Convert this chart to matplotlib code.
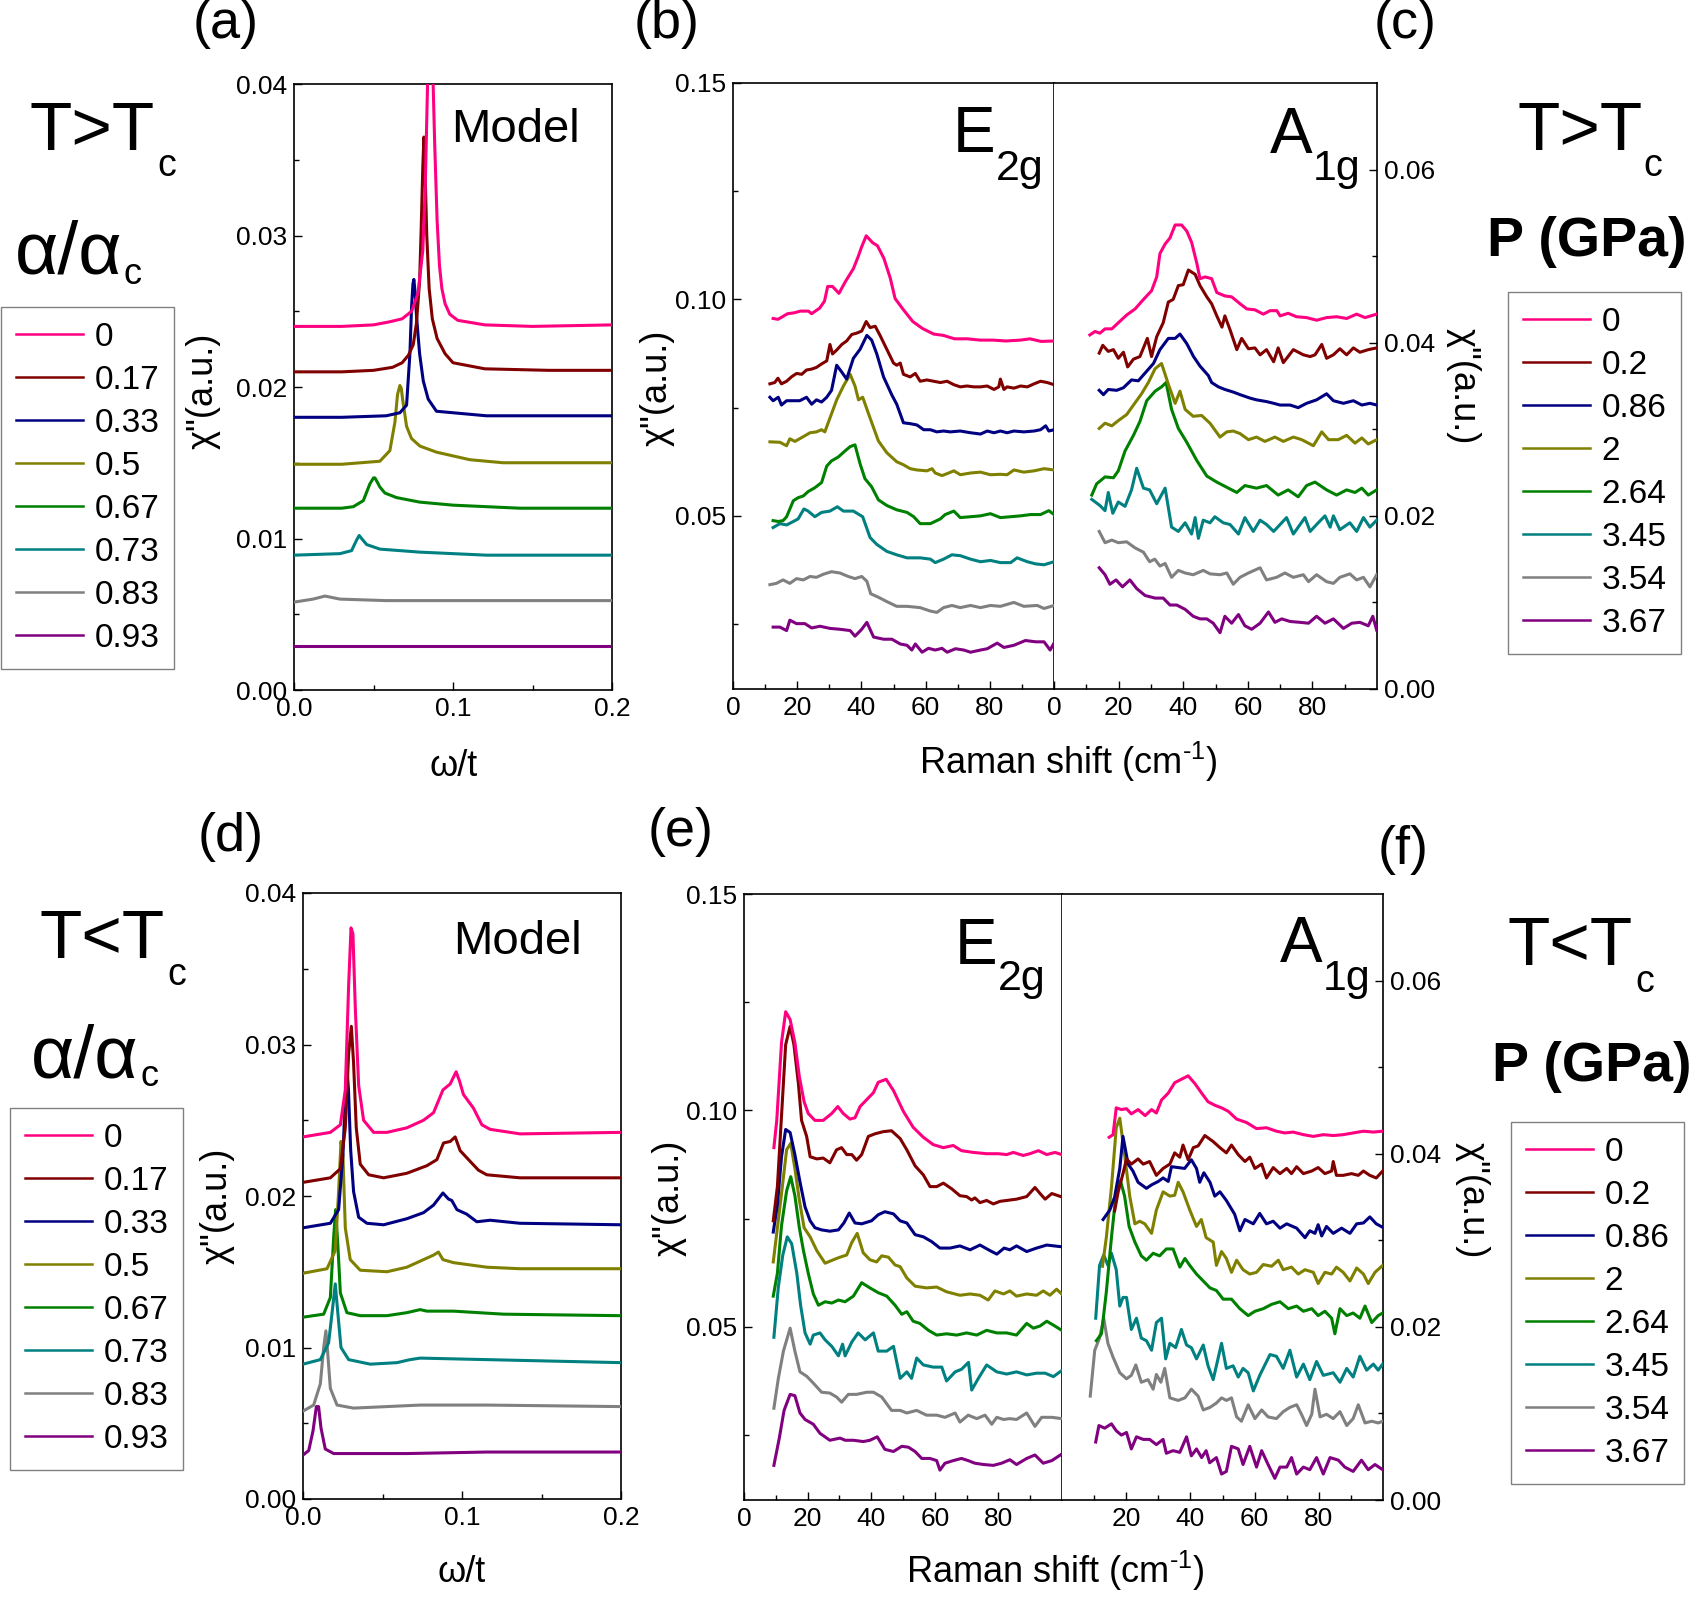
import matplotlib
matplotlib.use('Agg')
import matplotlib.pyplot as plt
from matplotlib.lines import Line2D
from matplotlib.ticker import FixedLocator, FormatStrFormatter

W, H = 1694, 1605

colors = ['#FF0080', '#800000', '#000080', '#808000',
          '#008000', '#008080', '#808080', '#800080']
alpha_labels = ['0', '0.17', '0.33', '0.5', '0.67', '0.73', '0.83', '0.93']
pressure_labels = ['0', '0.2', '0.86', '2', '2.64', '3.45', '3.54', '3.67']

# model, T > Tc : (omega/t, chi'')
model_hi = [
    [(0, .0240), (.03, .0240), (.05, .0241), (.06, .0243), (.068, .0245), (.074, .0250), (.078, .0262),
     (.081, .0290), (.0825, .0330), (.084, .0400), (.0855, .0450), (.087, .0420), (.0885, .0360),
     (.090, .0310), (.0915, .0280), (.093, .0265), (.095, .0255), (.098, .0248), (.103, .0244),
     (.12, .0241), (.15, .0240), (.2, .0241)],
    [(0, .0210), (.03, .0210), (.05, .0211), (.062, .0213), (.068, .0216), (.072, .0221), (.075, .0228),
     (.077, .0242), (.079, .0270), (.080, .0305), (.081, .0345), (.0817, .0365), (.0825, .0340),
     (.0835, .0300), (.085, .0265), (.087, .0245), (.090, .0232), (.095, .0222), (.100, .0216),
     (.12, .0212), (.16, .0211), (.2, .0211)],
    [(0, .0180), (.03, .0180), (.058, .0181), (.0666, .0183), (.0708, .0188), (.0729, .0222), (.0739, .0252),
     (.0748, .0268), (.0754, .0271), (.0762, .0262), (.0771, .0246), (.079, .0222), (.0813, .0204),
     (.0844, .0192), (.0896, .0184), (.100, .0183), (.121, .0181), (.2, .0181)],
    [(0, .0149), (.03, .0149), (.054, .0151), (.0603, .0158), (.0635, .0177), (.0651, .0195), (.0666, .0201),
     (.0675, .0199), (.0683, .0192), (.0708, .0174), (.0739, .0166), (.0792, .0161), (.0896, .0157),
     (.1106, .0152), (.1315, .0150), (.2, .0150)],
    [(0, .0120), (.03, .0120), (.0373, .0121), (.0436, .0125), (.0477, .0136), (.050, .0140), (.0509, .0140),
     (.0525, .0137), (.054, .0134), (.0572, .0130), (.0645, .0127), (.0792, .0124), (.1001, .0122),
     (.142, .0120), (.2, .0120)],
    [(0, .0089), (.0289, .0090), (.0362, .0092), (.0394, .0099), (.041, .0102), (.0425, .0100), (.0457, .0096),
     (.054, .0093), (.0792, .0091), (.121, .0089), (.2, .0089)],
    [(0, .0058), (.012, .0060), (.0195, .0062), (.0289, .0060), (.058, .0059), (.2, .0059)],
    [(0, .0029), (.2, .0029)],
]

# model, T < Tc
model_lo = [
    [(0, .0239), (.0172, .0242), (.0235, .0247), (.0266, .0270), (.0287, .0339), (.0302, .0377), (.0314, .0373),
     (.0329, .0324), (.035, .0273), (.0381, .0250), (.0444, .0242), (.0528, .0242), (.0653, .0245),
     (.0758, .0250), (.0821, .0255), (.088, .0270), (.0926, .0274), (.0963, .0282), (.0984, .0276),
     (.1009, .0267), (.1072, .0258), (.1125, .0247), (.1177, .0244), (.1365, .0241), (.2, .0242)],
    [(0, .0209), (.0172, .0212), (.0235, .0218), (.0266, .0245), (.0287, .0294), (.0304, .0312), (.0318, .0288),
     (.0335, .0245), (.036, .0221), (.0413, .0214), (.0507, .0212), (.0653, .0215), (.0779, .0220),
     (.0842, .0224), (.0884, .0235), (.0926, .0236), (.0957, .0239), (.0988, .0230), (.1041, .0224),
     (.1104, .0217), (.1156, .0214), (.1365, .0212), (.2, .0212)],
    [(0, .0179), (.0172, .0182), (.0224, .0191), (.0251, .0227), (.0266, .0265), (.0276, .0285), (.0286, .0270),
     (.030, .0230), (.0318, .0203), (.035, .0186), (.0402, .0182), (.0507, .0181), (.0653, .0185),
     (.0758, .0189), (.0821, .0194), (.088, .0202), (.0915, .0198), (.0936, .0197), (.0968, .0191),
     (.103, .0188), (.1093, .0183), (.1177, .0184), (.1365, .0182), (.2, .0181)],
    [(0, .0149), (.0151, .0152), (.0203, .0164), (.0224, .0203), (.0239, .0236), (.0251, .0227), (.0266, .0179),
     (.0297, .0158), (.036, .0151), (.0528, .0150), (.0653, .0153), (.0758, .0158), (.0821, .0161),
     (.0852, .0163), (.088, .0158), (.0947, .0156), (.1156, .0153), (.1365, .0152), (.2, .0152)],
    [(0, .0120), (.013, .0122), (.0172, .0133), (.0193, .0173), (.0205, .0191), (.0218, .0170), (.0235, .0136),
     (.0276, .0123), (.036, .0121), (.0528, .0121), (.0653, .0123), (.0737, .0125), (.0779, .0124),
     (.0947, .0124), (.1261, .0122), (.2, .0121)],
    [(0, .0089), (.0109, .0092), (.0161, .0103), (.0184, .0124), (.0203, .0142), (.0218, .0124), (.0239, .0100),
     (.0287, .0092), (.0423, .0089), (.0591, .0090), (.0674, .0092), (.0737, .0093), (.1156, .0092),
     (.2, .0090)],
    [(0, .0058), (.0067, .0062), (.0109, .0076), (.013, .0100), (.0144, .0111), (.0155, .0097), (.0172, .0073),
     (.0214, .0062), (.0318, .0060), (.0528, .0061), (.0737, .0062), (.1156, .0062), (.2, .0061)],
    [(0, .0029), (.0036, .0032), (.0063, .0045), (.0084, .0061), (.0098, .0061), (.0113, .0047), (.014, .0033),
     (.0193, .0030), (.0423, .0030), (.0653, .0030), (.1156, .0031), (.2, .0031)],
]

# E2g, T > Tc : (Raman shift, chi'')
e2g_hi = [
    [(12.5, .0956), (14, .0954), (17, .0967), (19, .0969), (21, .0973), (23.5, .0973), (24.5, .0967),
     (27, .0980), (28.5, .0996), (29.5, .1030), (31, .1030), (33, .1014), (35, .1041), (37.5, .1071),
     (39, .1099), (40, .1120), (41.5, .1147), (43.5, .1131), (45, .1124), (47, .1095), (49, .1049),
     (50.5, .1002), (53, .0977), (56, .0949), (59, .0933), (62.5, .0920), (65.5, .0917), (69, .0909),
     (73, .0909), (77, .0906), (81, .0906), (85, .0904), (89.5, .0906), (92.5, .0909), (96, .0903),
     (100, .0904)],
    [(11.5, .0805), (13, .0808), (14, .0818), (15.1, .0805), (16.7, .0811), (18.2, .0821), (19.8, .0829),
     (21.4, .0827), (22.9, .0837), (24.5, .0839), (26, .0843), (27.6, .0851), (29.2, .0858), (30.2, .0896),
     (31, .0874), (32.3, .0883), (33.9, .0896), (35.4, .0904), (37, .0919), (38.5, .0922), (40.1, .0927),
     (41.5, .0949), (42.7, .0935), (44.3, .0938), (45.8, .0917), (47.9, .0885), (50, .0853), (51, .0848),
     (52.1, .0853), (53.1, .0827), (55.2, .0821), (56.8, .0829), (58.3, .0811), (60.4, .0814),
     (62.5, .0811), (64.6, .0808), (66.7, .0811), (68.8, .0803), (70.8, .0798), (72.9, .0800),
     (75, .0798), (77.1, .0798), (79.2, .0800), (81.3, .0792), (82.8, .0798), (83.3, .0816),
     (84.4, .0792), (85.4, .0798), (87.5, .0795), (89.6, .0800), (91.7, .0798), (93.8, .0805),
     (95.8, .0811), (97.9, .0808), (100, .0803)],
    [(11.5, .0774), (12.5, .0766), (14.1, .0774), (15.1, .0756), (16.7, .0766), (18.8, .0766), (20.8, .0766),
     (22.9, .0774), (24.5, .0758), (26, .0768), (27.6, .0763), (29.2, .0774), (30.7, .0790), (32.3, .0848),
     (33.9, .0832), (35.4, .0816), (37.5, .0864), (39.6, .0885), (41.7, .0917), (43.2, .0906),
     (44.8, .0874), (46.9, .0821), (49.5, .0779), (51, .0758), (53.1, .0715), (55.2, .0713), (57.3, .0710),
     (59.4, .0699), (61.5, .0699), (63.5, .0694), (65.6, .0696), (67.7, .0694), (70.8, .0696),
     (74, .0692), (77.1, .0689), (79.2, .0696), (81.3, .0692), (83.3, .0696), (85.4, .0692),
     (87.5, .0696), (90.6, .0694), (93.8, .0696), (95.8, .0699), (97.4, .0708), (98.4, .0696),
     (100, .0699)],
    [(11.5, .0671), (14.6, .0670), (16.7, .0662), (17.7, .0678), (19.3, .0672), (21.9, .0683), (24, .0692),
     (26, .0694), (27.6, .0699), (28.6, .0694), (30.2, .0726), (32.3, .0768), (34.4, .0800), (36.5, .0827),
     (38, .0800), (39.1, .0768), (40.4, .0774), (42.7, .0726), (45.3, .0673), (47.9, .0646), (51, .0625),
     (53.1, .0618), (55.2, .0609), (57.3, .0606), (60.4, .0604), (62, .0609), (63, .0599), (65.1, .0593),
     (67.2, .0599), (68.8, .0604), (70.8, .0595), (74, .0599), (77.1, .0601), (80.2, .0595),
     (83.3, .0596), (85.4, .0595), (87.5, .0606), (90.6, .0601), (93.8, .0604), (96.9, .0609),
     (100, .0606)],
    [(12.5, .0489), (14.1, .0487), (15.6, .0489), (16.7, .0498), (18.8, .0535), (20.3, .0542), (21.9, .0546),
     (23.4, .0556), (25.5, .0565), (27.6, .0577), (29.2, .0615), (30.7, .0627), (32.8, .0636),
     (34.9, .0650), (36.5, .0660), (38, .0664), (39.6, .0620), (41.1, .0586), (43.2, .0567),
     (45.3, .0537), (47.9, .0524), (51, .0514), (54.2, .0508), (56.3, .0498), (58.3, .0482),
     (61.5, .0482), (64.6, .0493), (66.1, .0503), (68.8, .0511), (70.8, .0496), (74, .0498),
     (77.1, .0500), (80.2, .0505), (83.3, .0496), (86.5, .0498), (89.6, .0500), (92.7, .0503),
     (95.8, .0503), (98.4, .0512), (100, .0503)],
    [(12.5, .0473), (14.6, .0482), (16.7, .0479), (18.8, .0487), (20.3, .0493), (22.1, .0516), (23.4, .0511),
     (25.5, .0498), (27.6, .0508), (30.2, .0511), (32.5, .0521), (34.4, .0511), (37.5, .0511),
     (40.4, .0498), (42.7, .0450), (44.8, .0434), (47.9, .0418), (51, .0410), (54.2, .0403),
     (58.3, .0403), (61.5, .0400), (63, .0392), (65.6, .0400), (68.2, .0410), (70.8, .0408), (74, .0400),
     (77.1, .0394), (80.2, .0397), (83.3, .0392), (86.5, .0392), (88.5, .0403), (91.7, .0394),
     (94.3, .0389), (96.9, .0387), (100, .0394)],
    [(11.5, .0341), (13.5, .0344), (15.6, .0352), (17.7, .0344), (19.8, .0355), (21.9, .0352), (24, .0360),
     (26, .0358), (28.1, .0365), (30.7, .0371), (33.3, .0368), (35.9, .0360), (38, .0355), (40.1, .0360),
     (41.7, .0349), (42.9, .0320), (45.3, .0312), (47.9, .0302), (51, .0291), (54.2, .0291), (58.3, .0288),
     (61.5, .0280), (63.5, .0277), (65.6, .0288), (68.2, .0293), (70.8, .0288), (74, .0293), (77.1, .0288),
     (80.2, .0293), (83.3, .0291), (87.5, .0300), (90.6, .0291), (94.8, .0293), (96.9, .0286),
     (100, .0293)],
    [(12.5, .0243), (14.6, .0243), (16.7, .0235), (17.7, .0259), (19.8, .0251), (22.4, .0251), (24.5, .0241),
     (27.1, .0245), (30.2, .0240), (33.3, .0238), (36.5, .0235), (38, .0222), (40.1, .0238), (41.7, .0254),
     (43.8, .0220), (46.9, .0215), (49.5, .0215), (52.1, .0204), (54.2, .0201), (55.7, .0190),
     (56.8, .0204), (58.9, .0185), (60.9, .0194), (63, .0190), (65.1, .0194), (66.7, .0185),
     (69.3, .0193), (71.9, .0190), (74, .0185), (77.1, .0190), (79.2, .0193), (82.3, .0206),
     (84.4, .0196), (87.5, .0201), (91.1, .0212), (94.3, .0209), (96.9, .0209), (98.8, .0190),
     (100, .0206)],
]

# A1g, T > Tc
a1g_hi = [
    [(11.1, .0409), (12.7, .0413), (14.2, .0411), (15.8, .0416), (17.9, .0416), (19.9, .0423), (22.5, .0432),
     (25.1, .0439), (27.7, .0450), (30.2, .0460), (31.8, .0476), (32.8, .0503), (34.4, .0514),
     (35.9, .0521), (37.5, .0536), (39.5, .0536), (41.1, .0529), (42.6, .0516), (44.2, .0492),
     (45.2, .0474), (46.8, .0476), (48.8, .0474), (50.4, .0458), (52.9, .0454), (55, .0453),
     (57.6, .0445), (59.7, .0439), (62.2, .0438), (64.8, .0433), (66.9, .0437), (69, .0437), (70, .0431),
     (72.5, .0434), (75.1, .0430), (78.2, .0429), (81.3, .0426), (84.4, .0429), (87.5, .0430),
     (90.6, .0428), (93.7, .0433), (96.3, .0429), (99.9, .0433)],
    [(14, .0388), (15.1, .0397), (16.8, .0390), (18.4, .0392), (19.9, .0382), (21.5, .0389), (22.8, .0372),
     (24.6, .0381), (26.6, .0384), (28.9, .0405), (30.2, .0384), (31.8, .0407), (33.8, .0423),
     (35.4, .0447), (36.9, .0450), (38.5, .0466), (40, .0467), (41.6, .0484), (43.7, .0479),
     (45.2, .0466), (47.3, .0453), (48.8, .0445), (50.4, .0431), (52, .0418), (52.9, .0431),
     (54.5, .0415), (56.6, .0392), (58.1, .0405), (60.2, .0393), (62.2, .0394), (63.8, .0386),
     (65.8, .0392), (68, .0378), (69.4, .0394), (71, .0377), (74.1, .0392), (77.2, .0386), (79.3, .0384),
     (80.8, .0386), (82.9, .0398), (84.4, .0382), (86.5, .0386), (88.5, .0393), (90.6, .0386),
     (92.7, .0394), (94.7, .0389), (97.3, .0392), (99.9, .0394)],
    [(14, .0345), (15.3, .0340), (16.8, .0346), (19.4, .0345), (21.5, .0348), (24, .0357), (26.1, .0356),
     (28.2, .0365), (30.8, .0376), (32.8, .0392), (35.4, .0405), (37.5, .0405), (39, .0410), (41.1, .0399),
     (43.2, .0384), (45.2, .0373), (47.8, .0362), (48.8, .0354), (50.9, .0349), (52.9, .0346),
     (55.5, .0343), (57.6, .0340), (60.7, .0336), (62.7, .0334), (65.8, .0332), (68, .0330), (70, .0328),
     (73.1, .0328), (75.6, .0325), (78.2, .0330), (81.3, .0334), (84.4, .0341), (86.5, .0333),
     (89.6, .0330), (92.7, .0333), (95.3, .0328), (97.8, .0330), (99.9, .0328)],
    [(14, .0301), (15.8, .0307), (17.9, .0304), (19.9, .0310), (22.5, .0317), (24.6, .0328), (27.1, .0341),
     (29.2, .0354), (31.3, .0370), (33.3, .0376), (35.4, .0352), (37.5, .0330), (39, .0344), (40.6, .0323),
     (43.1, .0315), (45.7, .0316), (48.3, .0307), (51.4, .0291), (53.5, .0297), (55.5, .0298),
     (57.6, .0295), (60.2, .0288), (62.7, .0291), (65.3, .0286), (68.4, .0291), (71, .0286), (74.1, .0291),
     (76.7, .0288), (80.3, .0281), (82.9, .0297), (85, .0288), (88, .0288), (90.6, .0293), (93.2, .0284),
     (95.3, .0290), (97.3, .0283), (99.9, .0288)],
    [(11.7, .0224), (13.2, .0237), (15.8, .0245), (18.4, .0244), (19.9, .0252), (22, .0275), (24.6, .0293),
     (26.6, .0309), (28.7, .0333), (31.3, .0344), (33.3, .0349), (34.7, .0354), (36.4, .0323),
     (38.5, .0301), (41.1, .0285), (44.2, .0264), (47.3, .0246), (50.4, .0239), (53.5, .0233),
     (56.6, .0227), (59.1, .0235), (62.7, .0232), (65.8, .0235), (69.4, .0224), (72.5, .0230),
     (75.6, .0222), (78.2, .0235), (80.8, .0239), (84.4, .0230), (87.5, .0224), (90.6, .0230),
     (93.2, .0227), (95.3, .0232), (97.3, .0224), (99.9, .0230)],
    [(11.7, .0219), (14.2, .0212), (15.8, .0206), (16.8, .0227), (18.2, .0203), (19.9, .0216), (22, .0211),
     (24, .0230), (25.6, .0255), (27.7, .0232), (29.6, .0230), (31.8, .0214), (34.4, .0232), (36.4, .0187),
     (38.5, .0182), (40.6, .0192), (42.6, .0179), (43.7, .0198), (44.7, .0174), (46.2, .0195),
     (48.3, .0192), (49.8, .0199), (52.4, .0192), (54.5, .0190), (57.1, .0179), (59.1, .0198),
     (61.7, .0182), (63.8, .0195), (65.8, .0190), (68, .0182), (70, .0190), (72, .0198), (74.1, .0179),
     (77.7, .0198), (79.3, .0182), (81.8, .0192), (83.9, .0200), (85.5, .0187), (86.5, .0200),
     (88.5, .0184), (91.6, .0192), (93.7, .0182), (95.8, .0198), (97.8, .0187), (99.9, .0195)],
    [(14, .0182), (15.8, .0169), (17.9, .0172), (19.9, .0169), (22.5, .0170), (25.1, .0163), (27.7, .0158),
     (29.6, .0147), (31.2, .0150), (32.8, .0142), (34.4, .0145), (36.4, .0129), (38.5, .0137),
     (40.6, .0134), (43.1, .0132), (46.2, .0137), (48.3, .0133), (51.4, .0132), (53.5, .0134),
     (55.5, .0121), (57.6, .0129), (60.2, .0134), (63.8, .0140), (65.8, .0126), (68.9, .0129),
     (71.5, .0134), (74.1, .0129), (77.2, .0132), (78.8, .0124), (81.3, .0132), (84.4, .0124),
     (86.5, .0122), (88.5, .0129), (91.6, .0133), (93.7, .0126), (95.8, .0129), (97.8, .0118),
     (99.9, .0132)],
    [(14, .0140), (15.8, .0132), (17.3, .0121), (19.2, .0126), (21.2, .0118), (23.5, .0126), (25.6, .0116),
     (28.2, .0108), (31.3, .0105), (33.8, .0105), (35.9, .0097), (38, .0097), (40.6, .0092), (43.1, .0084),
     (45.2, .0081), (47.3, .0081), (49.3, .0076), (51.4, .0065), (52.9, .0084), (55, .0076), (57.1, .0086),
     (59.1, .0073), (61.2, .0069), (63.8, .0076), (66.4, .0089), (68.4, .0077), (70.5, .0081),
     (73.1, .0078), (76.2, .0077), (78.8, .0076), (81.3, .0084), (83.9, .0076), (86.5, .0081),
     (89.6, .0070), (92.2, .0076), (94.7, .0077), (97.3, .0073), (98.7, .0084), (99.9, .0068)],
]

# E2g, T < Tc
e2g_lo = [
    [(9.4, .0914), (10.3, .0977), (11.8, .1157), (13.1, .1228), (14.5, .1210), (16, .1157), (17.4, .1078),
     (18.9, .1020), (20.2, .0993), (22.3, .0977), (24.9, .0977), (27.6, .0993), (29.5, .1009),
     (31.2, .0993), (33.3, .0980), (34.9, .0983), (36.5, .1009), (38.6, .1025), (40.7, .1041),
     (42.2, .1065), (44.7, .1072), (47, .1046), (50.1, .0998), (53.2, .0961), (56.4, .0938),
     (59.5, .0921), (62.7, .0914), (65.8, .0919), (68.4, .0907), (72.1, .0903), (76.3, .0900),
     (80, .0900), (82.6, .0898), (84.7, .0903), (87.8, .0896), (89.9, .0900), (92.6, .0907),
     (95.2, .0898), (97.8, .0903), (99.9, .0898)],
    [(9.2, .0745), (10.5, .0824), (11.8, .0988), (13.1, .1152), (14.5, .1194), (15.7, .1152), (17.1, .1062),
     (18.1, .0977), (19.7, .0940), (20.8, .0893), (22.9, .0888), (24.9, .0890), (27, .0879), (29.1, .0909),
     (30.7, .0914), (32.3, .0898), (33.9, .0898), (35.4, .0885), (37, .0898), (39.1, .0940), (41.2, .0946),
     (43.8, .0951), (46.4, .0953), (49.1, .0935), (51.2, .0909), (53.8, .0872), (56.4, .0851),
     (58.5, .0824), (60.6, .0824), (62.7, .0832), (65.3, .0819), (67.9, .0803), (70, .0801),
     (71.6, .0793), (72.6, .0798), (74.2, .0787), (76.3, .0792), (78.4, .0784), (80.5, .0790),
     (82.6, .0792), (85.7, .0795), (88.9, .0801), (91.5, .0822), (93.1, .0808), (94.7, .0795),
     (96.8, .0808), (99.6, .0801)],
    [(9.2, .0719), (10.5, .0782), (11.8, .0893), (13.1, .0956), (14.5, .0949), (16, .0898), (17.6, .0835),
     (19.2, .0777), (20.8, .0745), (22.3, .0729), (24.4, .0724), (27, .0721), (29.7, .0724), (31.4, .0740),
     (33.1, .0763), (34.9, .0740), (37, .0738), (40.1, .0745), (42.2, .0759), (44.3, .0766), (47, .0761),
     (49.1, .0745), (51.2, .0740), (53.8, .0713), (56.4, .0708), (59, .0697), (61.6, .0682), (64.8, .0682),
     (67.9, .0687), (71.1, .0678), (74.2, .0689), (77.4, .0676), (79.5, .0668), (81.8, .0682),
     (83.6, .0678), (85.7, .0687), (88.9, .0674), (92, .0682), (95.2, .0689), (99.9, .0685)],
    [(9.2, .0650), (10.5, .0729), (11.8, .0808), (13.4, .0909), (14.7, .0924), (16, .0866), (17.4, .0793),
     (18.9, .0729), (20.8, .0708), (22.9, .0676), (25.5, .0647), (28.1, .0655), (30.2, .0661),
     (32.3, .0666), (33.9, .0695), (35.6, .0716), (37.5, .0671), (39.6, .0655), (41.7, .0650),
     (43.3, .0664), (45.4, .0661), (47.5, .0643), (49.1, .0639), (51.2, .0613), (53.8, .0594),
     (57.4, .0590), (60.6, .0592), (63.7, .0581), (67.9, .0573), (71.1, .0576), (74.2, .0573),
     (76.8, .0562), (78.9, .0583), (81.6, .0576), (83.6, .0583), (85.7, .0571), (88.9, .0576),
     (92, .0573), (94.1, .0583), (96.2, .0573), (98.3, .0587), (99.9, .0576)],
    [(9.2, .0571), (10.5, .0624), (11.8, .0734), (13.4, .0814), (14.7, .0847), (16, .0803), (17.4, .0729),
     (18.7, .0676), (20.2, .0624), (21.8, .0576), (23.4, .0550), (25.5, .0558), (27.6, .0555),
     (29.7, .0562), (31.8, .0558), (34.4, .0571), (37, .0602), (39.6, .0590), (42.2, .0579), (44.9, .0571),
     (47.5, .0550), (49.6, .0529), (51.2, .0535), (53.2, .0513), (55.3, .0508), (58, .0492), (60.6, .0481),
     (63.7, .0484), (66.9, .0481), (70, .0486), (73.2, .0481), (76.3, .0492), (79.5, .0486),
     (82.6, .0486), (85.7, .0481), (88.9, .0508), (91, .0497), (93.1, .0502), (95.2, .0513),
     (97.3, .0504), (99.9, .0492)],
    [(9.4, .0476), (10.8, .0592), (12.2, .0666), (13.6, .0708), (15, .0692), (16.6, .0624), (17.8, .0550),
     (19.2, .0486), (20.8, .0460), (21.8, .0481), (23.9, .0486), (25.5, .0470), (27.6, .0455),
     (29.7, .0433), (31, .0460), (31.8, .0433), (33.9, .0465), (35.9, .0486), (38.1, .0470),
     (40.7, .0486), (42.2, .0444), (44.9, .0444), (47, .0455), (49.1, .0381), (51.2, .0396),
     (52.7, .0381), (54.3, .0428), (56.4, .0412), (59.5, .0407), (62.2, .0407), (63.7, .0375),
     (66.4, .0396), (68.4, .0402), (70.6, .0418), (71.6, .0354), (73.7, .0381), (76.3, .0412),
     (79.5, .0396), (82.6, .0391), (85.7, .0396), (88.9, .0389), (92, .0393), (94.7, .0393),
     (97.3, .0385), (99.9, .0399)],
    [(9.4, .0312), (10.8, .0381), (12.4, .0444), (14.5, .0497), (16, .0444), (17.6, .0396), (19.7, .0386),
     (21.8, .0370), (24.4, .0349), (27, .0347), (29.1, .0338), (30.7, .0326), (32.8, .0344), (35.4, .0344),
     (38.6, .0349), (40.7, .0349), (43.3, .0338), (46.4, .0307), (49.1, .0307), (51.2, .0301),
     (54.3, .0307), (57.4, .0296), (60.6, .0296), (63.2, .0291), (66.4, .0301), (67.9, .0280),
     (70.5, .0296), (73.2, .0288), (75.8, .0296), (77.9, .0275), (79.5, .0291), (81.6, .0286),
     (83.6, .0288), (85.7, .0286), (88.9, .0301), (91.5, .0270), (93.6, .0291), (96.8, .0291),
     (99.9, .0288)],
    [(9.4, .0180), (11.1, .0243), (12.6, .0307), (14.5, .0344), (16, .0341), (17.6, .0301), (19.2, .0286),
     (21.8, .0275), (23.9, .0254), (27, .0238), (30.2, .0243), (31.8, .0238), (34.4, .0238), (37.5, .0235),
     (39.6, .0238), (41.9, .0246), (44.3, .0217), (47, .0212), (49.6, .0224), (51.7, .0222), (53.8, .0212),
     (55.9, .0196), (58.5, .0196), (60.6, .0191), (61.6, .0169), (63.2, .0185), (65.8, .0191),
     (68.4, .0196), (70.5, .0191), (72.6, .0185), (75.3, .0182), (78.4, .0180), (81, .0185),
     (83.6, .0193), (85.7, .0182), (88.9, .0196), (91.5, .0204), (94.1, .0185), (96.8, .0191),
     (99.9, .0206)],
]

# A1g, T < Tc
a1g_lo = [
    [(14.7, .0419), (15.9, .0422), (16.9, .0453), (18.5, .0451), (20.1, .0452), (21.6, .0446), (23.7, .0451),
     (25.9, .0444), (27.9, .0451), (29.4, .0447), (31, .0462), (33.1, .0470), (35.1, .0482), (37.2, .0486),
     (39.3, .0490), (41.4, .0481), (43.5, .0470), (45.5, .0460), (47.6, .0456), (49.7, .0453),
     (51.8, .0449), (54.4, .0440), (57.5, .0436), (60.6, .0429), (63.7, .0430), (66.8, .0426),
     (69.4, .0424), (72, .0425), (75.2, .0422), (78.3, .0420), (81.4, .0422), (84.5, .0421),
     (87.6, .0422), (90.7, .0424), (93.9, .0426), (97, .0425), (99.9, .0426)],
    [(16.4, .0334), (17.5, .0356), (19, .0377), (20.1, .0394), (21.6, .0388), (23.7, .0394), (25.3, .0388),
     (27.3, .0391), (29.4, .0375), (31.5, .0383), (33.6, .0388), (35.1, .0401), (36.7, .0396), (37.7, .0410),
     (39.3, .0393), (40.9, .0407), (42.4, .0409), (44.5, .0421), (47.1, .0414), (49.2, .0407),
     (51.2, .0401), (52.8, .0410), (54.9, .0399), (57, .0391), (58.5, .0396), (60.1, .0383),
     (62.2, .0388), (63.7, .0372), (65.8, .0384), (67.9, .0377), (70, .0383), (71.5, .0377),
     (73.1, .0385), (75.2, .0377), (77.8, .0380), (79.8, .0384), (81.9, .0377), (84, .0380),
     (84.5, .0391), (85.5, .0375), (87.6, .0375), (90.2, .0377), (92.3, .0375), (93.9, .0380),
     (95.9, .0375), (97.9, .0372), (99.9, .0380)],
    [(12.8, .0324), (14.9, .0335), (16.4, .0350), (18, .0383), (19, .0420), (20.6, .0388), (22.1, .0380),
     (23.7, .0367), (26.3, .0360), (27.9, .0364), (30, .0368), (31.5, .0372), (33.1, .0368), (34.1, .0385),
     (36.2, .0384), (38.2, .0383), (40.3, .0393), (41.9, .0383), (42.9, .0367), (44.2, .0378),
     (46.1, .0367), (47.6, .0351), (49.2, .0356), (51.2, .0346), (53.8, .0330), (55.4, .0311),
     (57, .0324), (59.6, .0319), (61.6, .0331), (63.7, .0319), (65.8, .0322), (67.9, .0314), (70, .0319),
     (73.1, .0314), (75.7, .0303), (77.2, .0311), (78.8, .0308), (79.8, .0318), (80.9, .0305),
     (82.4, .0316), (84.5, .0308), (87.1, .0314), (89.7, .0308), (91.8, .0319), (93.9, .0320),
     (95.9, .0327), (97.9, .0319), (99.9, .0315)],
    [(12.6, .0270), (13.8, .0303), (15.4, .0361), (16.9, .0430), (18, .0441), (19.5, .0399), (21.1, .0351),
     (22.7, .0319), (24.2, .0322), (25.8, .0319), (27.9, .0308), (29.4, .0335), (31.5, .0356),
     (33.6, .0351), (35.1, .0352), (36.2, .0367), (37.7, .0356), (39.8, .0335), (41.9, .0316),
     (43.4, .0324), (44.9, .0303), (47.1, .0298), (48.1, .0271), (49.7, .0287), (51.2, .0279),
     (52.8, .0263), (54.4, .0277), (56.4, .0266), (58.5, .0261), (60.6, .0263), (62.7, .0272),
     (65.3, .0270), (67.4, .0277), (68.9, .0266), (71.5, .0269), (73.6, .0261), (75.7, .0266),
     (78.3, .0263), (79.8, .0250), (81.9, .0263), (84, .0261), (85.5, .0269), (87.6, .0263),
     (89.7, .0253), (91.8, .0268), (93.9, .0261), (95.4, .0250), (97.5, .0263), (99.9, .0271)],
    [(10.7, .0184), (12.3, .0192), (13.8, .0240), (15.4, .0303), (16.9, .0356), (18.2, .0369), (19.5, .0351),
     (20.9, .0316), (22.7, .0298), (24.7, .0282), (26.3, .0277), (28.4, .0285), (30.4, .0282),
     (32.5, .0290), (34.6, .0290), (36.7, .0269), (38.3, .0279), (39.8, .0271), (41.9, .0261), (44, .0253),
     (46.1, .0245), (48.1, .0242), (50.2, .0232), (52.8, .0232), (55.4, .0221), (58, .0213), (60.1, .0218),
     (62.7, .0221), (65.3, .0226), (67.9, .0229), (70.5, .0221), (73.1, .0224), (75.2, .0218),
     (77.8, .0221), (79.8, .0213), (81.9, .0218), (84, .0210), (85, .0192), (86.6, .0221), (88.7, .0213),
     (90.7, .0216), (92.8, .0210), (94.4, .0224), (96.5, .0205), (98.5, .0213), (99.9, .0216)],
    [(10.5, .0210), (11.7, .0271), (13, .0283), (14.3, .0271), (15.4, .0285), (16.9, .0266), (18, .0224),
     (19, .0234), (20.1, .0234), (21.6, .0197), (23.2, .0210), (24.7, .0187), (26.3, .0184), (27.9, .0173),
     (29.4, .0205), (31, .0210), (32.3, .0163), (33.6, .0181), (35.4, .0176), (37.2, .0197), (38.8, .0179),
     (40.3, .0176), (41.9, .0163), (44, .0179), (45.5, .0155), (47.1, .0139), (49.7, .0181), (51.2, .0152),
     (53.3, .0155), (54.9, .0142), (56.4, .0152), (58, .0147), (59.6, .0126), (61.6, .0144), (64.8, .0168),
     (66.8, .0166), (68.9, .0152), (71, .0173), (73.1, .0142), (75.2, .0157), (77.2, .0139), (79.3, .0160),
     (81.4, .0144), (84.5, .0147), (86.6, .0136), (88.7, .0152), (90.7, .0142), (92.8, .0166),
     (94.9, .0150), (97, .0157), (98.5, .0150), (99.9, .0157)],
    [(8.8, .0120), (10.2, .0173), (11.7, .0187), (13, .0210), (14.3, .0181), (15.9, .0165), (18, .0147),
     (20.1, .0140), (21.6, .0144), (23, .0156), (24.7, .0136), (26.8, .0139), (28.4, .0128), (29.4, .0145),
     (30.8, .0136), (32, .0152), (33.6, .0118), (36.2, .0115), (38.3, .0118), (40.3, .0128), (42.4, .0120),
     (44, .0104), (46.1, .0107), (48.1, .0112), (49.7, .0118), (51.2, .0115), (52.8, .0118), (54.4, .0096),
     (55.9, .0091), (58, .0110), (60.1, .0094), (62.2, .0104), (64.2, .0096), (66.8, .0094), (68.9, .0102),
     (71, .0107), (73.1, .0110), (74.6, .0099), (76.2, .0086), (77.8, .0099), (78.8, .0128), (80.4, .0096),
     (82.4, .0099), (84.5, .0094), (86.6, .0102), (88.7, .0086), (90.7, .0094), (92.3, .0110),
     (94.4, .0089), (96.5, .0091), (98.5, .0089), (99.9, .0091)],
    [(10.5, .0067), (11.5, .0086), (13.3, .0083), (15.4, .0088), (16.9, .0080), (18.5, .0075), (20.1, .0078),
     (21.6, .0059), (23.2, .0073), (25.3, .0070), (27.3, .0070), (29.4, .0064), (31.5, .0070), (32.5, .0054),
     (34.6, .0057), (36.7, .0055), (38.8, .0073), (40.3, .0051), (41.9, .0059), (43.5, .0049), (44.9, .0057),
     (46, .0043), (48.1, .0049), (49.7, .0030), (51.2, .0033), (52.8, .0062), (54.9, .0059), (56.4, .0041),
     (58.5, .0062), (60.6, .0038), (62.2, .0057), (64.2, .0041), (66.3, .0025), (67.9, .0038), (70, .0038),
     (71.5, .0049), (73.1, .0030), (75.2, .0038), (77.2, .0035), (79.3, .0049), (81.4, .0030),
     (83.5, .0049), (86.1, .0046), (88.1, .0038), (90.7, .0033), (93.3, .0046), (95.4, .0035),
     (97.5, .0041), (99.9, .0035)],
]

SANS = ['Liberation Sans', 'DejaVu Sans']
plt.rcParams['font.family'] = SANS
plt.rcParams['mathtext.fontset'] = 'custom'
plt.rcParams['mathtext.rm'] = 'Liberation Sans'
plt.rcParams['mathtext.it'] = 'Liberation Sans:italic'
plt.rcParams['axes.linewidth'] = 1.2

LW = 2.2
TICK = 19


def fx(px):
    return px / W


def fy(py):
    return 1 - py / H


def rect(left, top, right, bottom):
    return [fx(left), fy(bottom), (right - left) / W, (bottom - top) / H]


def ticks(ax, **kw):
    ax.tick_params(which='both', direction='in', labelsize=TICK, width=1.0, pad=5, **kw)
    ax.tick_params(which='major', length=6)
    ax.tick_params(which='minor', length=3.5)


def draw(ax, curves):
    for i, curve in enumerate(curves):
        xs, ys = zip(*curve)
        ax.plot(xs, ys, color=colors[i], lw=LW, zorder=10 - i)


def model_panel(box, curves):
    ax = fig.add_axes(box)
    draw(ax, curves)
    ax.set_xlim(0, 0.2)
    ax.set_ylim(0, 0.04)
    ax.xaxis.set_major_locator(FixedLocator([0, 0.1, 0.2]))
    ax.xaxis.set_minor_locator(FixedLocator([0.05, 0.15]))
    ax.xaxis.set_major_formatter(FormatStrFormatter('%.1f'))
    ax.yaxis.set_major_locator(FixedLocator([0, 0.01, 0.02, 0.03, 0.04]))
    ax.yaxis.set_minor_locator(FixedLocator([0.005, 0.015, 0.025, 0.035]))
    ax.yaxis.set_major_formatter(FormatStrFormatter('%.2f'))
    ticks(ax)
    return ax


def raman_panel(box_l, box_r, left_curves, right_curves, zero_label):
    a1 = fig.add_axes(box_l)
    a2 = fig.add_axes(box_r)
    draw(a1, left_curves)
    draw(a2, right_curves)
    a1.set_xlim(0, 100)
    a1.set_ylim(0.01, 0.15)
    a1.xaxis.set_major_locator(FixedLocator([0, 20, 40, 60, 80]))
    a1.xaxis.set_minor_locator(FixedLocator([10, 30, 50, 70, 90]))
    a1.yaxis.set_major_locator(FixedLocator([0.05, 0.10, 0.15]))
    a1.yaxis.set_minor_locator(FixedLocator([0.025, 0.075, 0.125]))
    a1.yaxis.set_major_formatter(FormatStrFormatter('%.2f'))
    ticks(a1)
    a2.set_xlim(0, 100)
    a2.set_ylim(0, 0.07)
    a2.xaxis.set_major_locator(FixedLocator([0, 20, 40, 60, 80] if zero_label else [20, 40, 60, 80]))
    a2.xaxis.set_minor_locator(FixedLocator([10, 30, 50, 70, 90]))
    a2.yaxis.tick_right()
    a2.yaxis.set_major_locator(FixedLocator([0, 0.02, 0.04, 0.06]))
    a2.yaxis.set_minor_locator(FixedLocator([0.01, 0.03, 0.05]))
    a2.yaxis.set_major_formatter(FormatStrFormatter('%.2f'))
    a2.spines['left'].set_visible(False)
    ticks(a2, left=False, right=True, labelleft=False, labelright=True)
    return a1, a2


def legend(labels, left, top):
    handles = [Line2D([], [], color=c, lw=1.8) for c in colors]
    leg = fig.legend(handles, labels, loc='upper left',
                     bbox_to_anchor=(fx(left), fy(top)), bbox_transform=fig.transFigure,
                     prop={'family': SANS, 'size': 24}, handlelength=2.0, handletextpad=0.35,
                     labelspacing=0.36, borderpad=0.45, borderaxespad=0,
                     fancybox=False, framealpha=1, edgecolor='#808080')
    leg.get_frame().set_linewidth(1.0)


def label(x, y, s, size, **kw):
    kw.setdefault('va', 'baseline')
    fig.text(fx(x), fy(y), s, fontsize=size, family=SANS, **kw)


fig = plt.figure(figsize=(W / 100, H / 100), dpi=100)

model_panel(rect(294, 84, 612, 690), model_hi)
model_panel(rect(303, 893, 621, 1499), model_lo)
raman_panel(rect(733, 83, 1054, 689), rect(1054, 83, 1377, 689), e2g_hi, a1g_hi, True)
raman_panel(rect(744, 894, 1062, 1500), rect(1062, 894, 1383, 1500), e2g_lo, a1g_lo, False)

# panel letters
for s, x, y in [('(a)', 226, 24), ('(b)', 667, 24), ('(c)', 1405, 24),
                ('(d)', 231, 837), ('(e)', 681, 832), ('(f)', 1403, 850)]:
    label(x, y, s, 39, ha='center', va='center')

# side titles
label(29, 150, 'T>T', 50)
label(157, 176, 'c', 27)
label(15, 273, 'α/α', 54)
label(123, 284, 'c', 26)
label(1517, 150, 'T>T', 50)
label(1643, 176, 'c', 27)
label(1487, 256, 'P (GPa)', 40, weight='bold')

label(39, 958, 'T<T', 50)
label(167, 985, 'c', 27)
label(31, 1077, 'α/α', 54)
label(140, 1086, 'c', 26)
label(1507, 965, 'T<T', 50)
label(1635, 992, 'c', 27)
label(1492, 1081, 'P (GPa)', 40, weight='bold')

# in-panel labels
label(451, 142, 'Model', 34)
label(453, 954, 'Model', 34)
label(953, 152, 'E', 46)
label(996, 180, '2g', 31)
label(1270, 153, 'A', 46)
label(1313, 180, '1g', 31)
label(955, 964, 'E', 46)
label(998, 990, '2g', 31)
label(1280, 962, 'A', 46)
label(1323, 990, '1g', 31)

# axis titles
label(454, 766, 'ω/t', 26, ha='center', va='center')
label(462, 1572, 'ω/t', 26, ha='center', va='center')
label(1068, 762, r'Raman shift (cm$^{\text{-1}}$)', 26, ha='center', va='center')
label(1055, 1571, r'Raman shift (cm$^{\text{-1}}$)', 26, ha='center', va='center')
for x, y, rot in [(203, 391, 90), (657, 388, 90), (1463, 386, -90),
                  (217, 1206, 90), (669, 1198, 90), (1472, 1200, -90)]:
    label(x, y, 'χ"(a.u.)', 26, ha='center', va='center', rotation=rot)

legend(alpha_labels, 1, 307)
legend(pressure_labels, 1508, 292)
legend(alpha_labels, 10, 1108)
legend(pressure_labels, 1511, 1122)

fig.savefig('out.png', dpi=100)
